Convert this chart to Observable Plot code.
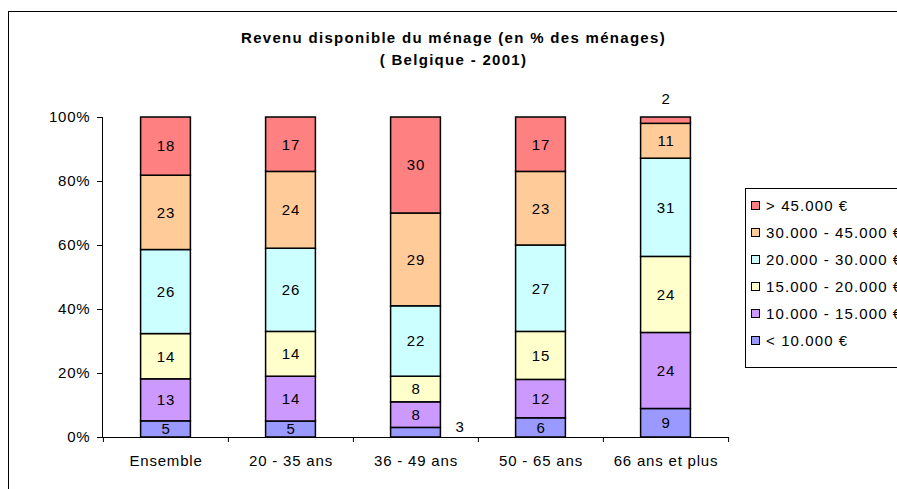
<!DOCTYPE html>
<html><head><meta charset="utf-8">
<script src="https://cdn.jsdelivr.net/npm/d3@7"></script>
<script src="https://cdn.jsdelivr.net/npm/@observablehq/plot@0.6"></script>
<style>
body{margin:0;overflow:hidden;background:#fff;font-family:"Liberation Sans",Arial,sans-serif;}
#wrap{position:relative;width:897px;height:489px;overflow:hidden;background:#fff;}
#frame{position:absolute;left:8px;top:11px;width:1000px;height:1000px;border:1px solid #000;box-sizing:border-box;}
#chart{position:absolute;left:0;top:0;}
.title{position:absolute;left:0;width:907px;text-align:center;font-weight:bold;font-size:15px;line-height:18px;letter-spacing:1.3px;color:#000;}
#legend{position:absolute;left:745px;top:188px;width:200px;height:180px;border:1px solid #000;box-sizing:border-box;background:#fff;}
.item{position:absolute;left:0;height:18px;line-height:18px;font-size:15px;letter-spacing:1.1px;white-space:nowrap;}
.sw{position:absolute;left:5px;top:4px;width:9px;height:9px;border:1px solid #000;box-sizing:border-box;}
.lt{position:absolute;left:20px;top:0;}
</style></head>
<body>
<div id="wrap">
  <div id="frame"></div>
  <div id="chart"></div>
  <div class="title" id="t1" style="top:29px"></div>
  <div class="title" id="t2" style="top:51px"></div>
  <div id="legend"></div>
</div>
<script>
const titleText = "Revenu disponible du ménage (en % des ménages)";
const subtitleText = "( Belgique - 2001)";
const categories = ["Ensemble", "20 - 35 ans", "36 - 49 ans", "50 - 65 ans", "66 ans et plus"];
const series = ["< 10.000 €", "10.000 - 15.000 €", "15.000 - 20.000 €", "20.000 - 30.000 €", "30.000 - 45.000 €", "> 45.000 €"];
const colors = ["#9999FF", "#CC99FF", "#FFFFCC", "#CCFFFF", "#FFCC99", "#FF8080"];
const lt10   = [5, 5, 3, 6, 9];
const r10_15 = [13, 14, 8, 12, 24];
const r15_20 = [14, 14, 8, 15, 24];
const r20_30 = [26, 26, 22, 27, 31];
const r30_45 = [23, 24, 29, 23, 11];
const gt45   = [18, 17, 30, 17, 2];
const yTicks = [0, 0.2, 0.4, 0.6, 0.8, 1];

const seriesValues = [lt10, r10_15, r15_20, r20_30, r30_45, gt45];
const table = [];
series.forEach((s, si) => categories.forEach((c, ci) => table.push({cat: c, series: s, si, value: seriesValues[si][ci]})));

document.getElementById("t1").textContent = titleText;
document.getElementById("t2").textContent = subtitleText;

const W = 897, H = 489, mL = 102, mR = 169, mT = 117, mB = 52;
const band = (W - mL - mR) / categories.length;
const barW = 50;
const inset = (band - barW) / 2;
const font = "Liberation Sans, Arial, sans-serif";
const stackOpts = {x: "cat", y: "value", z: "series", offset: "normalize"};
const isSmall = d => d.value < 5;

const chart = Plot.plot({
  width: W, height: H,
  marginLeft: mL, marginRight: mR, marginTop: mT, marginBottom: mB,
  style: {background: "transparent", fontFamily: font, fontSize: "15px", letterSpacing: "0.8px", color: "#000"},
  x: {domain: categories, padding: 0, label: null},
  y: {domain: [0, 1], label: null},
  color: {domain: series, range: colors},
  marks: [
    Plot.frame({anchor: "left", stroke: "#000"}),
    Plot.frame({anchor: "bottom", stroke: "#000"}),
    Plot.axisY({ticks: yTicks, tickFormat: d3.format(".0%"), tickSize: 5, tickPadding: 7, fontSize: 15, label: null}),
    Plot.axisX({tickSize: 0, tickPadding: 18, fontSize: 15, label: null}),
    Plot.axisX({tickSize: 5, tickFormat: () => "", dx: -band / 2, label: null}),
    Plot.axisX(categories.slice(-1), {tickSize: 5, tickFormat: () => "", dx: band / 2, label: null}),
    Plot.barY(table, Plot.stackY({...stackOpts, fill: "series", stroke: "#000", strokeWidth: 1.5, insetLeft: inset, insetRight: inset})),
    Plot.text(table, Plot.stackY({...stackOpts, text: d => isSmall(d) ? "" : String(d.value), fill: "#000", fontSize: 15})),
    Plot.text(table, Plot.stackY1({...stackOpts, text: d => isSmall(d) && d.si === 0 ? String(d.value) : "", fill: "#000", fontSize: 15, dx: 44, dy: -10})),
    Plot.text(table, Plot.stackY2({...stackOpts, text: d => isSmall(d) && d.si === series.length - 1 ? String(d.value) : "", fill: "#000", fontSize: 15, dy: -18}))
  ]
});
document.getElementById("chart").appendChild(chart);

const legend = document.getElementById("legend");
series.slice().reverse().forEach((s, i) => {
  const idx = series.length - 1 - i;
  const item = document.createElement("div");
  item.className = "item";
  item.style.top = (8 + i * 27) + "px";
  const sw = document.createElement("div");
  sw.className = "sw";
  sw.style.background = colors[idx];
  const lt = document.createElement("div");
  lt.className = "lt";
  lt.textContent = s;
  item.appendChild(sw); item.appendChild(lt);
  legend.appendChild(item);
});
</script>
</body></html>
